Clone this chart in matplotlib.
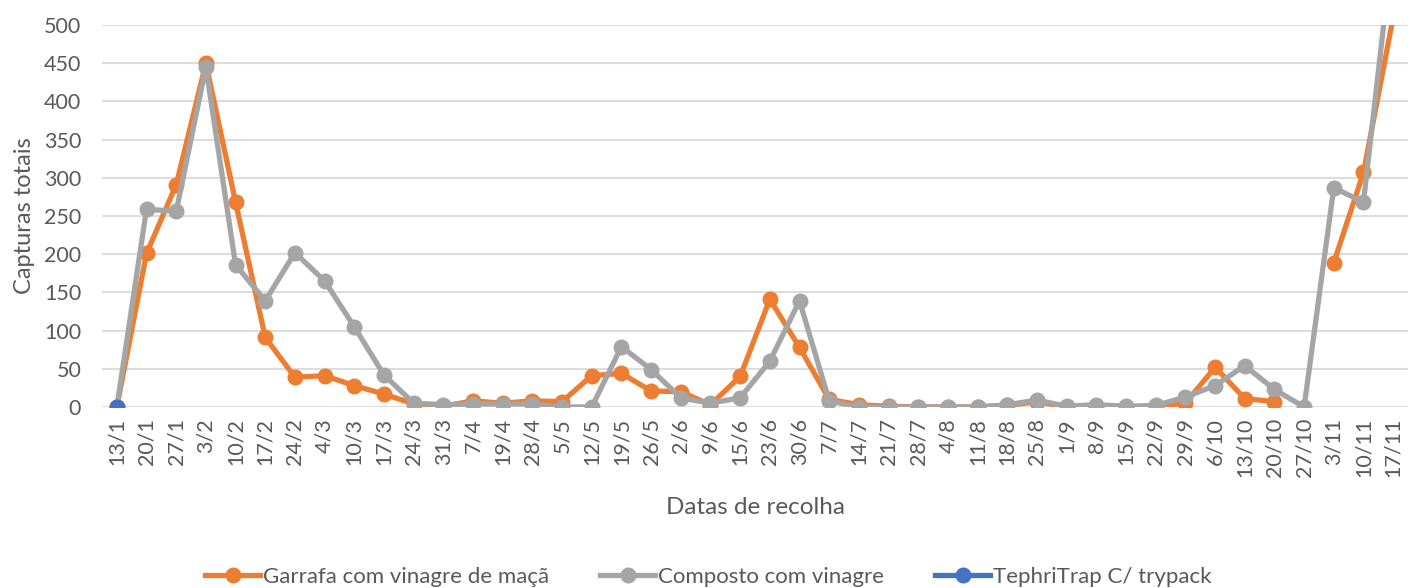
import matplotlib
matplotlib.use("Agg")
import matplotlib.pyplot as plt
import numpy as np

dates = ["13/1", "20/1", "27/1", "3/2", "10/2", "17/2", "24/2", "4/3", "10/3", "17/3",
         "24/3", "31/3", "7/4", "19/4", "28/4", "5/5", "12/5", "19/5", "26/5", "2/6",
         "9/6", "15/6", "23/6", "30/6", "7/7", "14/7", "21/7", "28/7", "4/8", "11/8",
         "18/8", "25/8", "1/9", "8/9", "15/9", "22/9", "29/9", "6/10", "13/10", "20/10",
         "27/10", "3/11", "10/11", "17/11"]

garrafa = [0, 201, 291, 450, 268, 91, 39, 41, 28, 17,
           4, 1, 8, 5, 8, 7, 41, 44, 21, 20,
           3, 40, 141, 78, 10, 3, 1, 0, 0, 0,
           2, 7, 0, 0, 0, 1, 5, 52, 11, 7,
           None, 189, 307, 510]

composto = [0, 259, 256, 445, 186, 139, 202, 165, 105, 42,
            5, 3, 4, 4, 4, 0, 0, 79, 49, 12,
            5, 12, 60, 139, 8, 0, 0, 0, 0, 0,
            3, 9, 1, 3, 1, 2, 13, 28, 54, 23,
            0, 287, 268, 610]

tephritrap = [0] + [None] * 43

y_ticks = [0, 50, 100, 150, 200, 250, 300, 350, 400, 450, 500]

plt.rcParams['font.family'] = ['Lato', 'DejaVu Sans']
txt = '#595959'

fig = plt.figure(figsize=(14.1, 5.88), dpi=100)
ax = fig.add_axes([102/1410, 181/588, (1408-102)/1410, (407-25)/588])

x = np.arange(len(dates))

def arr(v):
    return np.array([np.nan if a is None else a for a in v], dtype=float)

lw = 3.8
ms = 10.5
ax.plot(x, arr(garrafa), color='#ED7D31', lw=lw, marker='o', ms=ms, label='Garrafa com vinagre de maçã', zorder=3)
ax.plot(x, arr(composto), color='#A5A5A5', lw=lw, marker='o', ms=ms, label='Composto com vinagre', zorder=4)
ax.plot(x, arr(tephritrap), color='#4472C4', lw=lw, marker='o', ms=ms, label='TephriTrap C/ trypack', zorder=5)

ax.set_xlim(-0.5, len(dates) - 0.5)
ax.set_ylim(0, 500)
ax.set_yticks(y_ticks)
ax.set_xticks(x)
ax.set_xticklabels(dates, rotation=90, fontsize=15.5, color=txt)
ax.tick_params(axis='y', labelsize=15.5, colors=txt, length=0, pad=15)
ax.tick_params(axis='x', length=0, pad=8)
ax.grid(axis='y', color='#DDDDDD', lw=1.5)
ax.set_axisbelow(True)
for s in ax.spines.values():
    s.set_visible(False)

ax.set_ylabel('Capturas totais', fontsize=17, color=txt, labelpad=6)
fig.text(755/1410, 1 - 507/588, 'Datas de recolha', fontsize=17.5, color=txt, ha='center', va='center')

leg = fig.legend(loc='center', bbox_to_anchor=(708/1410, 1 - 577/588), ncol=3, frameon=False,
                 fontsize=16, handlelength=2.5, columnspacing=2.3, handletextpad=0.1)
for t in leg.get_texts():
    t.set_color(txt)

fig.savefig('out.png', dpi=100)
